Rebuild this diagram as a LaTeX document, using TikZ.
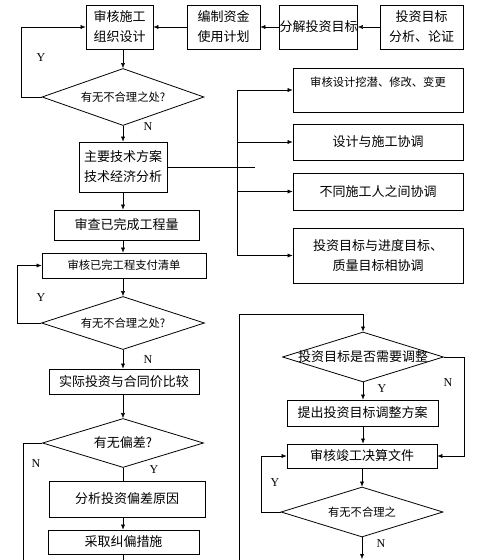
\documentclass[tikz,border=0pt]{standalone}
\usepackage{fontspec}
\setmainfont{Liberation Serif}
\newfontfamily\cjk{Noto Sans CJK SC}
\usetikzlibrary{arrows.meta,shapes.geometric}

\begin{document}
\begin{tikzpicture}[x=1pt,y=-1pt,
  box/.style={draw,rectangle,line width=0.8pt,align=center,inner sep=0pt,
    font=\cjk\fontsize{13pt}{20pt}\selectfont},
  small/.style={font=\cjk\fontsize{11.3pt}{17pt}\selectfont},
  dec/.style={draw,diamond,line width=0.8pt,inner sep=0pt,
    font=\cjk\fontsize{13pt}{16pt}\selectfont},
  arr/.style={-{Latex[length=5pt,width=4pt]}},
  yn/.style={font=\fontsize{12pt}{14pt}\selectfont}]
\useasboundingbox (0,0) rectangle (495,560);

% top row
\node[box,minimum width=67pt,minimum height=44pt] (A) at (119.5,27) {审核施工\\组织设计};
\node[box,minimum width=73pt,minimum height=44pt] (B) at (223.5,27) {编制资金\\使用计划};
\node[box,minimum width=77pt,minimum height=44pt] (C) at (318.5,27) {分解投资目标};
\node[box,minimum width=83pt,minimum height=44pt] (D) at (421.5,27) {投资目标\\分析、论证};

% left column
\node[dec,small,minimum width=162pt,minimum height=57pt] (d1) at (123,97) {\makebox[0pt]{有无不合理之处?}};
\node[box,minimum width=88pt,minimum height=50pt] (E) at (123,167) {主要技术方案\\技术经济分析};
\node[box,minimum width=145pt,minimum height=30pt] (J) at (126.5,225) {审查已完成工程量};
\node[box,small,minimum width=164pt,minimum height=25pt] (K) at (124,265.5) {审核已完工程支付清单};
\node[dec,small,minimum width=163pt,minimum height=53pt] (d2) at (123,323) {\makebox[0pt]{有无不合理之处?}};
\node[box,minimum width=150pt,minimum height=25pt] (L) at (124,381.5) {实际投资与合同价比较};
\node[dec,minimum width=161pt,minimum height=49pt] (d3) at (123,443) {\makebox[0pt]{有无偏差?}};
\node[box,minimum width=156pt,minimum height=36pt] (M) at (127,499) {分析投资偏差原因};
\node[box,minimum width=151pt,minimum height=24pt] (N) at (123.5,542) {采取纠偏措施};

% coordination boxes
\node[box,small,minimum width=170pt,minimum height=44pt] (F) at (378,90) {审核设计挖潜、修改、变更\\~};
\node[box,minimum width=170pt,minimum height=36pt] (G) at (378,142) {设计与施工协调};
\node[box,minimum width=170pt,minimum height=37pt] (H) at (378,191.5) {不同施工人之间协调};
\node[box,minimum width=170pt,minimum height=55pt] (I) at (378,255.5) {投资目标与进度目标、\\质量目标相协调};

% right column
\node[dec,minimum width=161pt,minimum height=50pt] (d4) at (363,357) {\makebox[0pt]{投资目标是否需要调整}};
\node[box,minimum width=151pt,minimum height=26pt] (O) at (362.5,413) {提出投资目标调整方案};
\node[box,minimum width=150pt,minimum height=24pt] (P) at (362,456) {审核竣工决算文件};
\node[dec,small,minimum width=162pt,minimum height=50pt] (d5) at (362,512) {\makebox[0pt]{有无不合理之}};

\coordinate (stub) at (255,167);
\coordinate (br) at (237,90);
\coordinate (nend) at (23,560);
\coordinate (lend) at (123,560);
\coordinate (rend) at (239,560);
\coordinate (rtop) at (239,314);
\coordinate (dend) at (362,559);

\draw[arr] (D.west) -- (C.east);
\draw[arr] (C.west) -- (B.east);
\draw[arr] (B.west) -- (A.east);
\draw[arr] (A.south -| d1) -- (d1.north);
\draw[arr] (d1.west) -- ++(-20,0) |- (A.west);
\draw[arr] (d1.south) -- (E.north);
\draw (E.east) -- (stub);
\draw (br) -- (br |- I.west);
\foreach \n in {F,G,H,I}
  \draw[arr] (br |- \n.west) -- (\n.west);
\draw[arr] (E.south) -- (J.north -| E.south);
\draw[arr] (J.south -| d1) -- (K.north -| d1);
\draw[arr] (K.south -| d2) -- (d2.north);
\draw[arr] (d2.west) -- ++(-24,0) |- (K.west);
\draw[arr] (d2.south) -- (L.north -| d2);
\draw[arr] (L.south -| d3) -- (d3.north);
\draw (d3.west) -| (nend);
\draw (d3.south) -- (M.north -| d3);
\draw[arr] (M.south -| d3) -- (N.north -| d3);
\draw (N.south -| d3) -- (lend);

\draw[arr] (rend) -- (rtop) -| (d4.north);
\draw[arr] (d4.east) -- ++(20,0) |- (P.east);
\draw[arr] (d4.south) -- (O.north -| d4);
\draw[arr] (O.south -| d4) -- (P.north -| d4);
\draw[arr] (P.south -| d5) -- (d5.north);
\draw[arr] (d5.west) -- ++(-19,0) |- (P.west);
\draw[arr] (d5.south) -- (dend);

\node[yn] (y1) at (41,58) {Y};
\node[yn] (n1) at (148,127) {N};
\node[yn] (y2) at (41,298) {Y};
\node[yn] (n2) at (148,360) {N};
\node[yn] (n3) at (36,464) {N};
\node[yn] (y3) at (154,470) {Y};
\node[yn] (n4) at (448,383) {N};
\node[yn] (y4) at (382,389) {Y};
\node[yn] (y5) at (275,483) {Y};
\node[yn] (n5) at (381,544) {N};
\end{tikzpicture}
\end{document}
